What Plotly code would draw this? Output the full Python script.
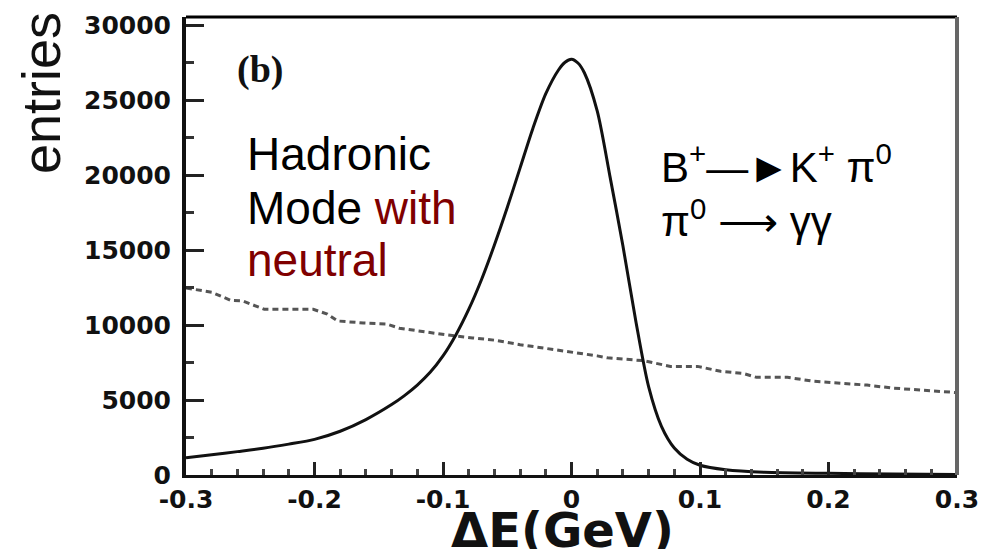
import plotly.graph_objects as go

# --- data ---
sig_x = [-0.3, -0.28, -0.26, -0.24, -0.22, -0.2, -0.18, -0.16, -0.14, -0.13, -0.12, -0.11, -0.1,
         -0.09, -0.08, -0.07, -0.06, -0.05, -0.04, -0.03, -0.02, -0.01, -0.005, 0.0, 0.005, 0.01,
         0.02, 0.03, 0.04, 0.05, 0.06, 0.07, 0.08, 0.09, 0.1, 0.12, 0.15, 0.2, 0.25, 0.3]
sig_y = [1150, 1350, 1560, 1780, 2060, 2380, 2920, 3700, 4700, 5300, 6000, 6850, 7950,
         9350, 11050, 13050, 15350, 17850, 20500, 23150, 25450, 27050, 27550, 27750, 27500, 26850,
         24300, 19900, 15300, 10300, 5900, 3250, 1800, 1050, 650, 350, 180, 110, 70, 40]

bkg_x = [-0.3, -0.28, -0.265, -0.256, -0.239, -0.219, -0.201, -0.19, -0.182, -0.162, -0.144,
         -0.134, -0.118, -0.097, -0.077, -0.06, -0.04, -0.02, 0.0, 0.02, 0.028, 0.056, 0.077,
         0.098, 0.116, 0.133, 0.144, 0.168, 0.188, 0.211, 0.23, 0.25, 0.271, 0.292, 0.3]
bkg_y = [12480, 12200, 11650, 11620, 11060, 11060, 11060, 10740, 10280, 10150, 10080,
         9800, 9600, 9350, 9150, 9000, 8700, 8450, 8250, 7950, 7820, 7630, 7250,
         7250, 6920, 6790, 6520, 6520, 6260, 6130, 6000, 5800, 5670, 5540, 5500]

x_ticks = [-0.3, -0.2, -0.1, 0, 0.1, 0.2, 0.3]
x_tick_labels = ["-0.3", "-0.2", "-0.1", "0", "0.1", "0.2", "0.3"]
y_ticks = [0, 5000, 10000, 15000, 20000, 25000, 30000]
y_tick_labels = ["0", "5000", "10000", "15000", "20000", "25000", "30000"]

fig = go.Figure()
fig.add_trace(go.Scatter(x=bkg_x, y=bkg_y, mode="lines",
                         line=dict(color="#555555", width=3, dash="6px,4px"),
                         hoverinfo="skip", showlegend=False))
fig.add_trace(go.Scatter(x=sig_x, y=sig_y, mode="lines", line_shape="spline",
                         line=dict(color="#111111", width=3, smoothing=0.8),
                         hoverinfo="skip", showlegend=False))

fig.update_layout(
    width=1003, height=549,
    margin=dict(l=186, r=46, t=11, b=74),
    paper_bgcolor="white", plot_bgcolor="white",
    showlegend=False,
    xaxis=dict(range=[-0.3, 0.3], tickmode="array", tickvals=x_ticks, ticktext=x_tick_labels,
               ticks="inside", ticklen=13, tickwidth=3, tickcolor="#222",
               minor=dict(dtick=0.02, tick0=-0.3, ticks="inside", ticklen=6, tickwidth=3, tickcolor="#444"),
               showgrid=False, zeroline=False, showline=True, linecolor="#111", linewidth=3,
               tickfont=dict(family="DejaVu Sans", size=25, color="#111", weight="bold")),
    yaxis=dict(range=[0, 30570], tickmode="array", tickvals=y_ticks, ticktext=y_tick_labels,
               ticks="inside", ticklen=18, tickwidth=3, tickcolor="#222",
               minor=dict(dtick=2500, tick0=0, ticks="inside", ticklen=8, tickwidth=3, tickcolor="#333"),
               showgrid=False, zeroline=False, showline=True, linecolor="#111", linewidth=4,
               ticklabelstandoff=6,
               tickfont=dict(family="DejaVu Sans", size=25, color="#111", weight="bold")),
    shapes=[
        dict(type="line", xref="paper", yref="paper", x0=0, x1=1, y0=1, y1=1,
             line=dict(color="#000", width=3)),
        dict(type="line", xref="paper", yref="paper", x0=1, x1=1, y0=0, y1=1,
             line=dict(color="#666", width=4)),
    ],
    annotations=[
        dict(text="entries", xref="paper", yref="paper", x=-0.188, y=0.834,
             textangle=-90, showarrow=False, xanchor="center", yanchor="middle",
             font=dict(family="Liberation Sans", size=54, color="#111")),
        dict(text="ΔE(GeV)", xref="paper", yref="paper", x=0.488, y=-0.12,
             showarrow=False, xanchor="center", yanchor="middle",
             font=dict(family="DejaVu Sans", size=48, color="#111", weight="bold")),
        dict(text="(b)", xref="paper", yref="paper", x=0.096, y=0.885,
             showarrow=False, xanchor="center", yanchor="middle",
             font=dict(family="Liberation Serif", size=38, color="#111", weight="bold")),
        dict(text="Hadronic", xref="paper", yref="paper", x=0.076, y=(475 - 150) / 464,
             showarrow=False, xanchor="left", yanchor="middle",
             font=dict(family="Liberation Sans", size=46, color="#000")),
        dict(text="Mode <span style='color:#7f0000'>with</span>", xref="paper", yref="paper",
             x=0.076, y=(475 - 204) / 464,
             showarrow=False, xanchor="left", yanchor="middle",
             font=dict(family="Liberation Sans", size=46, color="#000")),
        dict(text="neutral", xref="paper", yref="paper", x=0.076, y=(475 - 257) / 464,
             showarrow=False, xanchor="left", yanchor="middle",
             font=dict(family="Liberation Sans", size=46, color="#7f0000")),
        dict(text="B<sup>+</sup>—►K<sup>+</sup> π<sup>0</sup><br>π<sup>0</sup> ⟶ γγ",
             xref="paper", yref="paper", x=0.613, y=0.62, align="left",
             showarrow=False, xanchor="left", yanchor="middle",
             font=dict(family="Liberation Sans", size=42, color="#000")),
    ],
)

fig.write_html("out.html")
